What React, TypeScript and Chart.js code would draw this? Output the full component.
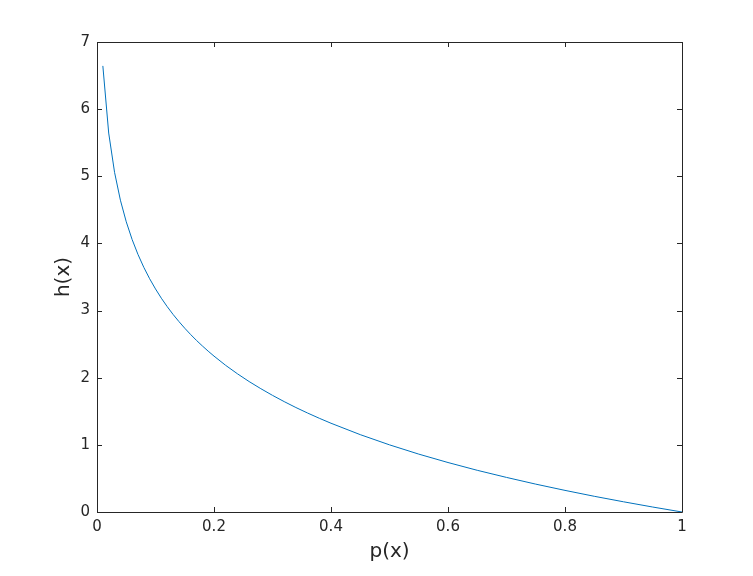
import React, { useEffect, useRef } from "react";
import { Chart, registerables } from "chart.js";

Chart.register(...registerables);

const pValues = [0.01, 0.02, 0.03, 0.04, 0.05, 0.06, 0.07, 0.08, 0.09, 0.1, 0.11, 0.12, 0.13, 0.14, 0.15, 0.16, 0.17, 0.18, 0.19, 0.2, 0.22, 0.24, 0.26, 0.28, 0.3, 0.32, 0.34, 0.36, 0.38, 0.4, 0.45, 0.5, 0.55, 0.6, 0.65, 0.7, 0.75, 0.8, 0.85, 0.9, 0.95, 1.0];
const hValues = [6.644, 5.644, 5.059, 4.644, 4.322, 4.059, 3.837, 3.644, 3.474, 3.322, 3.184, 3.059, 2.943, 2.837, 2.737, 2.644, 2.556, 2.474, 2.396, 2.322, 2.184, 2.059, 1.943, 1.837, 1.737, 1.644, 1.556, 1.474, 1.396, 1.322, 1.152, 1.0, 0.862, 0.737, 0.621, 0.515, 0.415, 0.322, 0.234, 0.152, 0.074, 0.0];
const xTicks = [0, 0.2, 0.4, 0.6, 0.8, 1];
const yTicks = [0, 1, 2, 3, 4, 5, 6, 7];
const xLabel = "p(x)";
const yLabel = "h(x)";

const FONT = "'DejaVu Sans', sans-serif";
const INK = "#262626";

const boxPlugin = {
  id: "matlabBox",
  afterDraw(chart: any) {
    const { ctx, chartArea, scales } = chart;
    const { left, right, top, bottom } = chartArea;
    const L = 5;
    ctx.save();
    ctx.strokeStyle = INK;
    ctx.lineWidth = 1;
    ctx.beginPath();
    ctx.rect(left + 0.5, top + 0.5, right - left, bottom - top);
    for (const v of xTicks) {
      const x = Math.round(scales.x.getPixelForValue(v)) + 0.5;
      ctx.moveTo(x, bottom);
      ctx.lineTo(x, bottom - L);
      ctx.moveTo(x, top);
      ctx.lineTo(x, top + L);
    }
    for (const v of yTicks) {
      const y = Math.round(scales.y.getPixelForValue(v)) + 0.5;
      ctx.moveTo(left, y);
      ctx.lineTo(left + L, y);
      ctx.moveTo(right, y);
      ctx.lineTo(right - L, y);
    }
    ctx.stroke();
    ctx.fillStyle = INK;
    ctx.font = `20px ${FONT}`;
    ctx.textAlign = "center";
    ctx.textBaseline = "middle";
    ctx.fillText(xLabel, (left + right) / 2, 552);
    ctx.save();
    ctx.translate(64, (top + bottom) / 2);
    ctx.rotate(-Math.PI / 2);
    ctx.fillText(yLabel, 0, 0);
    ctx.restore();
    ctx.restore();
  },
};

export default function App() {
  const ref = useRef<HTMLCanvasElement>(null);
  useEffect(() => {
    document.body.style.margin = "0";
    document.body.style.background = "#ffffff";
    const chart = new Chart(ref.current!, {
      type: "line",
      data: {
        datasets: [
          {
            data: pValues.map((p, i) => ({ x: p, y: hValues[i] })),
            borderColor: "#0072BD",
            borderWidth: 1,
            pointRadius: 0,
            tension: 0,
            fill: false,
          },
        ],
      },
      options: {
        responsive: false,
        animation: false,
        layout: { padding: { top: 42, right: 71, left: 0, bottom: 0 } },
        plugins: { legend: { display: false }, tooltip: { enabled: false } },
        scales: {
          x: {
            type: "linear",
            min: 0,
            max: 1,
            afterBuildTicks: (s: any) => {
              s.ticks = xTicks.map((v) => ({ value: v }));
            },
            afterFit: (s: any) => {
              s.height = 64;
            },
            grid: { display: false, drawTicks: false },
            border: { display: false },
            ticks: {
              color: INK,
              font: { family: FONT, size: 15 },
              padding: 6,
              maxRotation: 0,
              callback: (v: any) => String(v),
            },
          },
          y: {
            type: "linear",
            min: 0,
            max: 7,
            afterBuildTicks: (s: any) => {
              s.ticks = yTicks.map((v) => ({ value: v }));
            },
            afterFit: (s: any) => {
              s.width = 97;
            },
            grid: { display: false, drawTicks: false },
            border: { display: false },
            ticks: {
              color: INK,
              font: { family: FONT, size: 15 },
              padding: 7,
              callback: (v: any) => String(v),
            },
          },
        },
      },
      plugins: [boxPlugin],
    });
    return () => chart.destroy();
  }, []);
  return <canvas ref={ref} width={753} height={576} style={{ display: "block" }} />;
}
